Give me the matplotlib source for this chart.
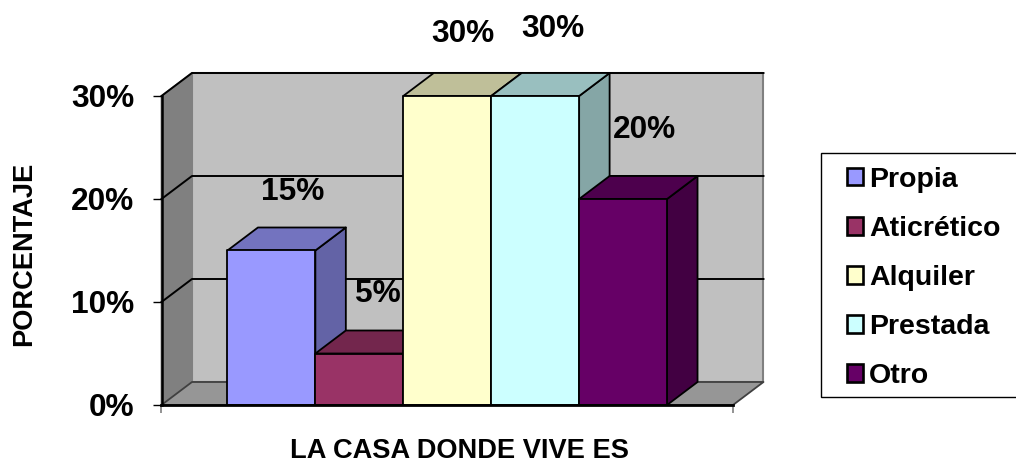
import matplotlib
matplotlib.use("Agg")
import matplotlib.pyplot as plt
from matplotlib.patches import Patch, Polygon, Rectangle

categories = ["Propia", "Aticrético", "Alquiler", "Prestada", "Otro"]
values = [15, 5, 30, 30, 20]
colors = ["#9999FF", "#993366", "#FFFFCC", "#CCFFFF", "#660066"]
y_ticks = [0, 10, 20, 30]
x_title = "LA CASA DONDE VIVE ES"
y_title = "PORCENTAJE"

# labels were dragged by hand in the original, offsets in pixels from the bar top
label_offsets = [(21, 58), (19, 59), (16, 62), (18, 67), (21, 69)]

W, H = 1016, 459
plt.rcParams["font.family"] = ["Liberation Sans", "DejaVu Sans"]
plt.rcParams["font.weight"] = "bold"

fig = plt.figure(figsize=(W / 100, H / 100), dpi=100)
ax = fig.add_axes([161.5 / W, 1 - 405 / H, 571.5 / W, 309 / H])
ax.set_xlim(-0.75, 5.75)
ax.set_ylim(0, 30)
ax.patch.set_visible(False)

# depth of the fake 3d box, in data units
dx = 30.5 / 88
dy = 23 / 10.3
x0, x1 = ax.get_xlim()
y0, y1 = ax.get_ylim()


def poly(pts, fc, ec="black", lw=1.3, z=1):
    ax.add_patch(Polygon(pts, closed=True, fc=fc, ec=ec, lw=lw, zorder=z,
                         clip_on=False, joinstyle="round"))


def shade(c, f):
    r, g, b = matplotlib.colors.to_rgb(c)
    return (r * f, g * f, b * f)


# walls and floor
poly([(x0 + dx, y0 + dy), (x1 + dx, y0 + dy), (x1 + dx, y1 + dy), (x0 + dx, y1 + dy)], "#C0C0C0", "#808080", 1.5)
poly([(x0, y0), (x0 + dx, y0 + dy), (x0 + dx, y1 + dy), (x0, y1)], "#808080", "#808080")
poly([(x0, y0), (x1, y0), (x1 + dx, y0 + dy), (x0 + dx, y0 + dy)], "#969696", "#404040")

# gridlines go along the side wall and the back wall
for t in y_ticks[1:]:
    ax.plot([x0, x0 + dx, x1 + dx], [t, t + dy, t + dy], color="black", lw=1.4, zorder=2, clip_on=False)

# bars drawn left to right so the later ones cover the earlier ones
for i, (v, c) in enumerate(zip(values, colors)):
    poly([(i + 1, 0), (i + 1 + dx, dy), (i + 1 + dx, v + dy), (i + 1, v)], shade(c, 0.65), z=3 + i)
    poly([(i, v), (i + 1, v), (i + 1 + dx, v + dy), (i + dx, v + dy)], shade(c, 0.75), z=3 + i)
    poly([(i, 0), (i + 1, 0), (i + 1, v), (i, v)], c, z=3 + i)
    ax.annotate(f"{v}%", xy=(i + 0.5, v), xytext=label_offsets[i], textcoords="offset pixels",
                ha="center", va="center", fontsize=22.8, zorder=20, annotation_clip=False)

for s in ["top", "right"]:
    ax.spines[s].set_visible(False)
ax.spines["left"].set_linewidth(1.8)
ax.spines["bottom"].set_linewidth(2)
ax.spines["left"].set_zorder(15)
ax.spines["bottom"].set_zorder(15)

ax.set_yticks(y_ticks)
ax.set_yticklabels([f"{t}%" for t in y_ticks], fontsize=22.8)
ax.tick_params(axis="y", length=6.5, width=1, pad=13)
ax.set_xticks([x0, x1])
ax.set_xticklabels(["", ""])
ax.tick_params(axis="x", length=6, width=1.2, color="#808080")

# the title sits right on the bottom edge in the reference
fig.text(459.5 / W, 1 - 457.5 / H, x_title, ha="center", va="baseline", fontsize=19.6)
fig.text(24 / W, 1 - 254 / H, y_title, ha="center", va="center", rotation=90, fontsize=19.6)

# legend frame runs off the right edge of the picture
fig.add_artist(Rectangle((821 / W, 1 - 397 / H), 200 / W, 244 / H, transform=fig.transFigure,
                         fc="white", ec="black", lw=1))
handles = [Patch(fc=c, ec="black", lw=1.9) for c in colors]
fig.legend(handles, categories, loc="center left", bbox_to_anchor=(847 / W, 1 - 278 / H),
           frameon=False, fontsize=20.5, borderpad=0, borderaxespad=0, labelspacing=0.81,
           handlelength=0.56, handleheight=0.56, handletextpad=0.22)

fig.savefig("out.png", dpi=100)
